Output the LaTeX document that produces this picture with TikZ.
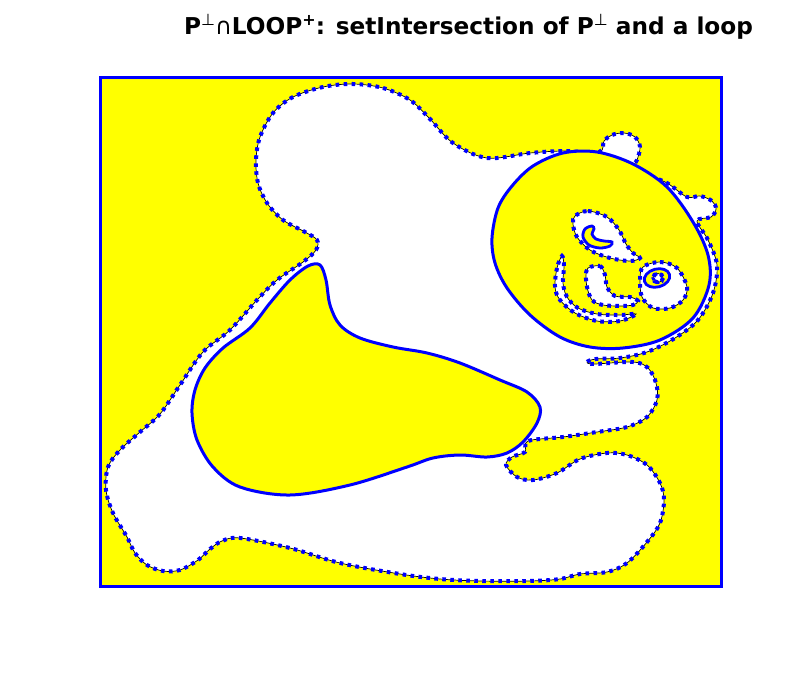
\documentclass[tikz,border=0pt]{standalone}
\usepackage{fontspec}
\setmainfont{DejaVu Sans}
\definecolor{ylw}{RGB}{255,255,0}
\definecolor{blu}{RGB}{0,0,255}
\newcommand\supr[1]{\raisebox{0.42em}{\fontsize{16}{16}\selectfont #1}}
\begin{document}
\begin{tikzpicture}[x=1pt,y=-1pt,
  solidb/.style={fill=ylw, draw=blu, line width=3pt},
  dotb/.style={fill=white, draw=black, line width=0.7pt,
    postaction={draw=blu, line width=4pt, dash pattern=on 3.6pt off 4.4pt}},
  sm/.style={smooth cycle, tension=0.55}]
\useasboundingbox (0,0) rectangle (808,682);
\fill[ylw] (100,78) rectangle (721,586);
% outer white region
\path[dotb] plot[sm] coordinates {
 (353,84) (383,88) (410,100) (430,119) (453,143) (487,158) (530,153) (563,151)
 (599,152) (604,141) (612,135) (624,133) (635,137) (640,147) (637,160) (632,169)
 (647,175) (667,183) (687,197) (700,196) (712,201) (716,209) (711,217) (697,221)
 (708,240) (717,265) (713,293) (698,320) (675,338) (647,352) (620,358) (596,359)
 (587,362) (594,364) (633,362) (648,368) (656,383) (657,400) (647,417) (627,427)
 (597,432) (563,437) (528,441) (525,452) (512,457) (506,465) (517,477) (533,480)
 (557,473) (580,459) (607,453) (627,455) (647,465) (660,483) (664,500) (660,523)
 (647,542) (627,563) (607,572) (580,574) (560,579) (530,581) (480,581) (440,579)
 (400,574) (340,563) (290,548) (240,538) (222,541) (210,549) (198,560) (180,570)
 (163,571) (147,565) (135,553) (127,537) (113,513) (106,490) (108,467) (120,450)
 (140,432) (160,414) (180,385) (203,352) (230,330) (257,300) (277,280) (303,262)
 (316,250) (317,240) (305,232) (283,220) (267,203) (258,183) (256,160) (260,137)
 (273,113) (293,97) (323,87)};
% big yellow blob
\path[solidb] plot[sm] coordinates {
 (320,265) (326,280) (330,305) (340,325) (360,338) (393,347) (427,353) (460,363)
 (500,380) (527,392) (540,407) (537,423) (523,442) (507,453) (487,457) (460,455)
 (433,458) (407,467) (350,485) (290,495) (240,487) (213,467) (197,440) (192,413)
 (195,390) (205,368) (223,348) (250,328) (270,303) (290,280) (308,266)};
% yellow ellipse
\path[solidb] plot[sm] coordinates {
 (492,238) (498,208) (512,186) (533,166) (563,153) (597,152) (633,164) (667,187)
 (693,222) (708,255) (709,285) (693,318) (660,340) (623,348) (590,347) (560,337)
 (530,315) (507,288) (495,263)};
% inner white regions
\path[dotb] plot[sm] coordinates {
 (575,216) (588,211) (607,217) (619,230) (626,244) (633,253) (640,258) (630,261)
 (610,258) (590,250) (577,237) (573,224)};
\path[dotb] plot[sm] coordinates {
 (643,267) (660,262) (677,268) (687,287) (683,300) (670,308) (653,308) (642,297)
 (640,280)};
\path[dotb] plot[sm] coordinates {
 (562,256) (557,268) (555,287) (560,300) (575,313) (597,321) (620,321) (636,314)
 (620,315) (597,314) (578,308) (567,297) (563,283) (564,266)};
\path[dotb] plot[sm] coordinates {
 (588,268) (600,266) (605,275) (607,287) (615,296) (630,297) (638,301) (633,305)
 (620,306) (603,305) (592,300) (587,287) (586,276)};
% small yellow shapes
\path[solidb, line width=2.8pt] plot[sm] coordinates {
 (592,226) (585,229) (583,237) (589,245) (600,248) (610,246) (612,242) (604,241)
 (596,239) (592,234) (594,229)};
\path[solidb, line width=2.8pt, rotate around={15:(657,278)}] (657,278) ellipse [x radius=13, y radius=9];
\path[dotb, postaction={draw=blu,line width=3pt,dash pattern=on 3pt off 3pt}] (658,278) ellipse [x radius=5, y radius=4.5];
% frame
\draw[blu, line width=3pt] (100,78) rectangle (721,586);
\node[anchor=base, font=\fontsize{23.2}{27}\selectfont\bfseries, inner sep=0pt] (title) at (468.5,35)
 {P\supr{\mdseries ⊥}{\mdseries ∩}LOOP\supr{+}: setIntersection of P\supr{\mdseries ⊥} and a loop};
\end{tikzpicture}
\end{document}
